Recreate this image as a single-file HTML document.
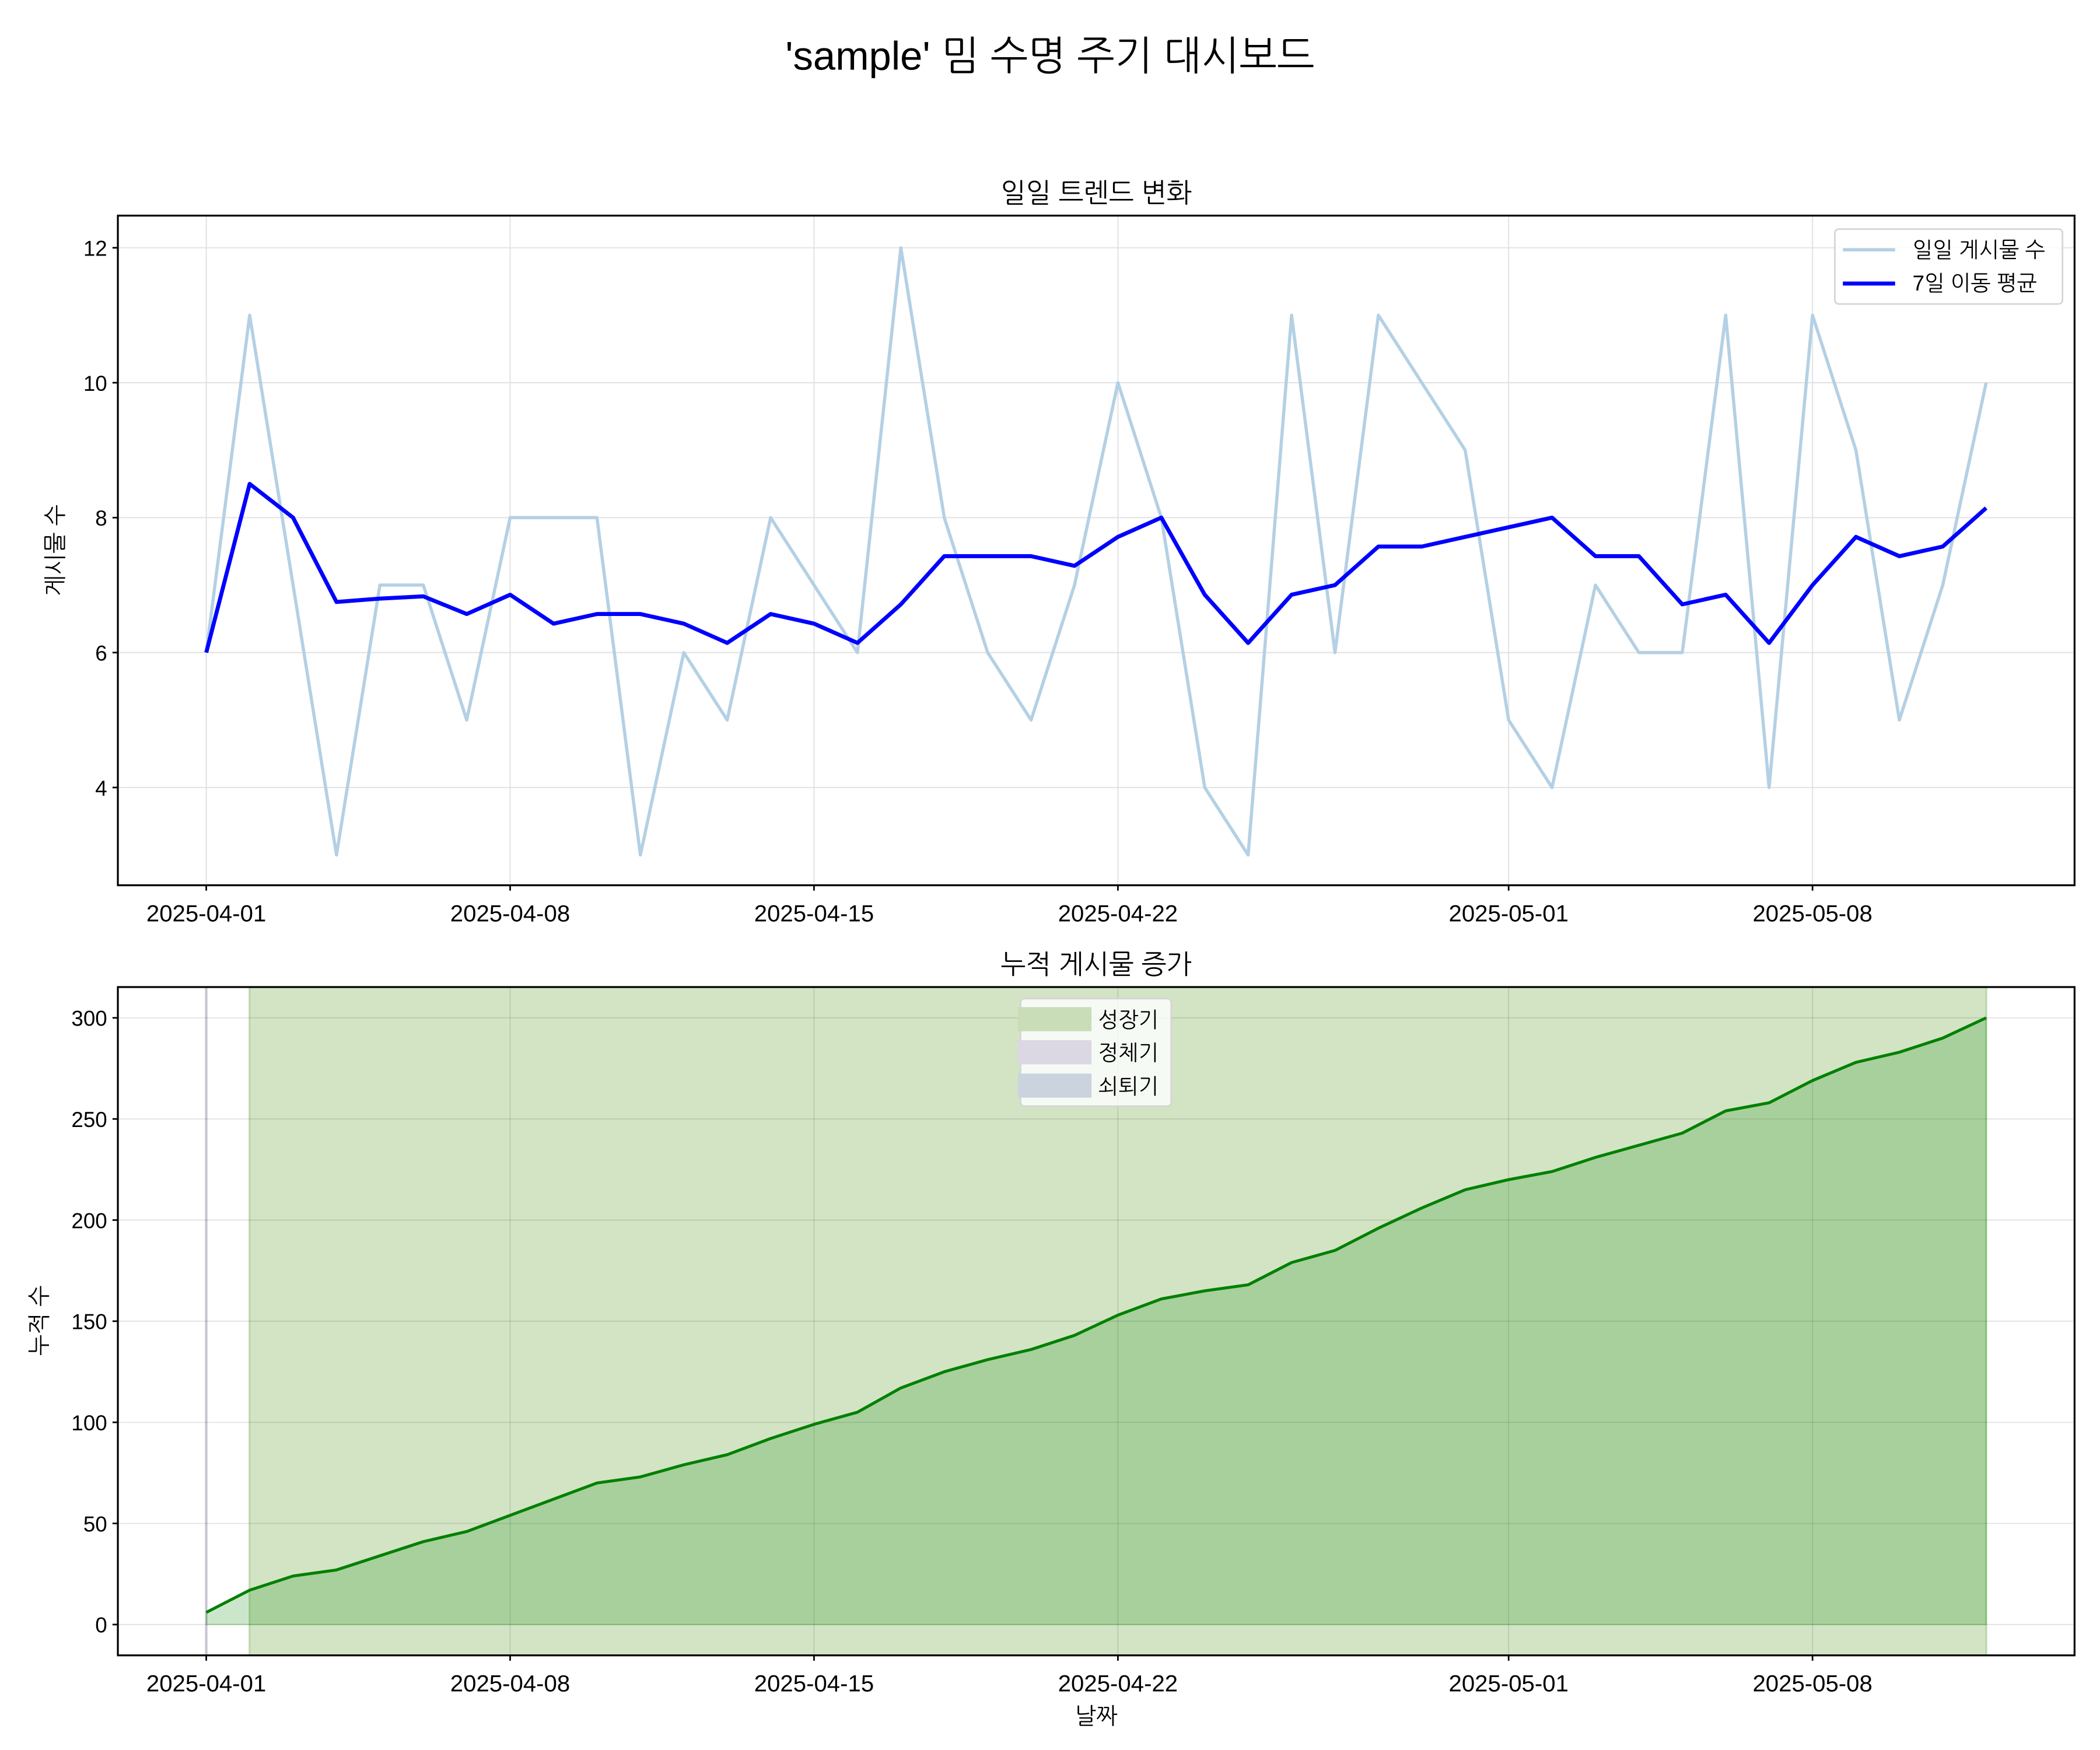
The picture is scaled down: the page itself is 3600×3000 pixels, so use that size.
<!DOCTYPE html>
<html><head><meta charset="utf-8">
<style>
html,body{margin:0;padding:0;background:#fff;}
svg{display:block;}
text{font-family:"Liberation Sans","NanumGothic","Noto Sans CJK KR",sans-serif;fill:#000;}
</style></head>
<body>
<svg id="chart" width="3600" height="3000" viewBox="0 0 1568 1306.67" xmlns="http://www.w3.org/2000/svg">
<rect x="0" y="0" width="1568" height="1306.67" fill="#fff"/>
<text x="784" y="52" font-size="30" text-anchor="middle">'sample' 밈 수명 주기 대시보드</text>
<g id="top"></g>
<g id="bottom"></g>
</svg>
<script>
const dailyPosts = [6,11,7,3,7,7,5,8,8,8,3,6,5,8,7,6,12,8,6,5,7,10,8,4,3,11,6,11,10,9,5,4,7,6,6,11,4,11,9,5,7,10];
const xTickLabels = ['2025-04-01','2025-04-08','2025-04-15','2025-04-22','2025-05-01','2025-05-08'];
const xTickDays = [0,7,14,21,30,37];
const topYTicks = [4,6,8,10,12];
const bottomYTicks = [0,50,100,150,200,250,300];
const growthStart = 1, growthEnd = 41;

const NS='http://www.w3.org/2000/svg';
function mk(parent,tag,attrs,text){const e=document.createElementNS(NS,tag);for(const k in attrs)e.setAttribute(k,attrs[k]);if(text!==undefined)e.textContent=text;parent.appendChild(e);return e;}

const n=dailyPosts.length;
const ma=dailyPosts.map((v,i)=>{const s=dailyPosts.slice(Math.max(0,i-6),i+1);return s.reduce((a,b)=>a+b,0)/s.length;});
let acc=0;const cum=dailyPosts.map(v=>acc+=v);

const L=88,R=1549;
const CX=(L+R)/2;
const x0=154, dx=(1483-154)/41;
const X=d=>x0+d*dx;

// ---------- top chart ----------
const T=document.getElementById('top');
const tT=161,tB=661;
const Yt=v=>185+(12-v)*(588-185)/8;
mk(T,'rect',{x:L,y:tT,width:R-L,height:tB-tT,fill:'#fff'});
topYTicks.forEach(v=>{
  const g=mk(T,'line',{x1:L,x2:R,y1:Yt(v),y2:Yt(v),stroke:'#e3e3e3','stroke-width':0.9});
  
  mk(T,'line',{x1:L-4,x2:L,y1:Yt(v),y2:Yt(v),stroke:'#000','stroke-width':1.2});
  const t=mk(T,'text',{x:L-8,y:Yt(v)+6,'font-size':16,'text-anchor':'end'},String(v));
  
});
xTickDays.forEach((d,i)=>{
  mk(T,'line',{x1:X(d),x2:X(d),y1:tT,y2:tB,stroke:'#e3e3e3','stroke-width':0.9});
  mk(T,'line',{x1:X(d),x2:X(d),y1:tB,y2:tB+4,stroke:'#000','stroke-width':1.2});
  const t=mk(T,'text',{x:X(d),y:tB+27,'font-size':17.5,'text-anchor':'middle'},xTickLabels[i]);
  
});
const dl=mk(T,'polyline',{points:dailyPosts.map((v,i)=>X(i)+','+Yt(v)).join(' '),fill:'none',stroke:'#b4d0e4','stroke-width':2.4,'stroke-linejoin':'round'});

const ml=mk(T,'polyline',{points:ma.map((v,i)=>X(i)+','+Yt(v)).join(' '),fill:'none',stroke:'#0000ff','stroke-width':3,'stroke-linejoin':'round'});

mk(T,'rect',{x:L,y:tT,width:R-L,height:tB-tT,fill:'none',stroke:'#000','stroke-width':1.4});
let e=mk(T,'text',{x:CX,y:151,'font-size':20,'text-anchor':'middle'},'일일 트렌드 변화');

e=mk(T,'text',{x:47,y:411,'font-size':17,'text-anchor':'middle',transform:'rotate(-90 47 411)'},'게시물 수');

const lg=mk(T,'g',{});

mk(lg,'rect',{x:1370,y:171,width:170,height:56,rx:3,fill:'#fff','fill-opacity':0.85,stroke:'#d5d5d5','stroke-width':1.2});
mk(lg,'line',{x1:1376,x2:1415,y1:186.5,y2:186.5,stroke:'#b4d0e4','stroke-width':2.4});
mk(lg,'text',{x:1428,y:192,'font-size':16},'일일 게시물 수');
mk(lg,'line',{x1:1376,x2:1415,y1:211.7,y2:211.7,stroke:'#0000ff','stroke-width':3});
mk(lg,'text',{x:1428,y:217,'font-size':16},'7일 이동 평균');

// ---------- bottom chart ----------
const B=document.getElementById('bottom');
const bT=737,bB=1236;
const Yb=v=>1213+(0-v)*(1213-760)/300;
mk(B,'rect',{x:L,y:bT,width:R-L,height:bB-bT,fill:'#fff'});
e=mk(B,'rect',{x:X(growthStart),y:bT,width:X(growthEnd)-X(growthStart),height:bB-bT,fill:'#d3e4c5'});

mk(B,'line',{x1:X(growthStart),x2:X(growthStart),y1:bT,y2:bB,stroke:'#bcd7ad','stroke-width':1.5});
mk(B,'line',{x1:X(growthEnd),x2:X(growthEnd),y1:bT,y2:bB,stroke:'#bcd7ad','stroke-width':1.5});
e=mk(B,'line',{x1:X(0),x2:X(0),y1:bT,y2:bB,stroke:'#d7d3e2','stroke-width':2});

bottomYTicks.forEach(v=>{
  mk(B,'line',{x1:L,x2:R,y1:Yb(v),y2:Yb(v),stroke:'#000','stroke-opacity':0.1,'stroke-width':0.9});
  mk(B,'line',{x1:L-4,x2:L,y1:Yb(v),y2:Yb(v),stroke:'#000','stroke-width':1.2});
  const t=mk(B,'text',{x:L-8,y:Yb(v)+6,'font-size':16,'text-anchor':'end'},String(v));
  
});
xTickDays.forEach((d,i)=>{
  mk(B,'line',{x1:X(d),x2:X(d),y1:bT,y2:bB,stroke:'#000','stroke-opacity':0.1,'stroke-width':0.9});
  mk(B,'line',{x1:X(d),x2:X(d),y1:bB,y2:bB+4,stroke:'#000','stroke-width':1.2});
  const t=mk(B,'text',{x:X(d),y:bB+27,'font-size':17.5,'text-anchor':'middle'},xTickLabels[i]);
  
});
const areaPts=cum.map((v,i)=>X(i)+','+Yb(v)).join(' ')+' '+X(n-1)+','+Yb(0)+' '+X(0)+','+Yb(0);
e=mk(B,'polygon',{points:areaPts,fill:'#008000','fill-opacity':0.2,stroke:'#008000','stroke-opacity':0.2,'stroke-width':1});

e=mk(B,'polyline',{points:cum.map((v,i)=>X(i)+','+Yb(v)).join(' '),fill:'none',stroke:'#008000','stroke-width':2.2,'stroke-linejoin':'round'});

mk(B,'rect',{x:L,y:bT,width:R-L,height:bB-bT,fill:'none',stroke:'#000','stroke-width':1.4});
e=mk(B,'text',{x:CX,y:727,'font-size':20,'text-anchor':'middle'},'누적 게시물 증가');

e=mk(B,'text',{x:35,y:986,'font-size':17,'text-anchor':'middle',transform:'rotate(-90 35 986)'},'누적 수');

e=mk(B,'text',{x:CX,y:1287,'font-size':17,'text-anchor':'middle'},'날짜');

const lg2=mk(B,'g',{});

mk(lg2,'rect',{x:762,y:745.6,width:112.5,height:80.4,rx:3,fill:'#fff','fill-opacity':0.8,stroke:'#d5d5d5','stroke-width':1.2});
[['성장기','#c9ddb9',761],['정체기','#dbd7e3',785.7],['쇠퇴기','#cbd3df',810.6]].forEach(r=>{
  mk(lg2,'rect',{x:760,y:r[2]-9,width:55,height:18,fill:r[1]});
  mk(lg2,'text',{x:820,y:r[2]+6,'font-size':16},r[0]);
});
</script>
</body></html>
